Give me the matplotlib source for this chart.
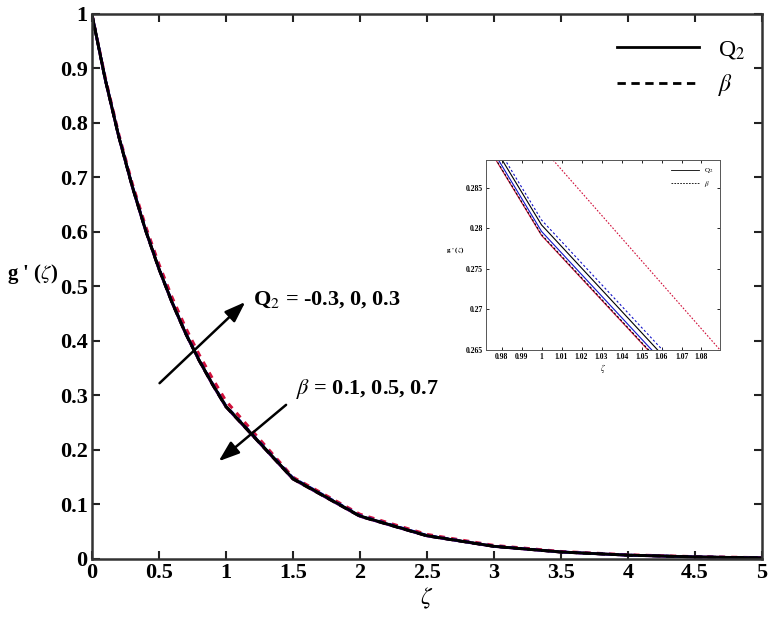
import matplotlib
matplotlib.use("Agg")
import matplotlib.pyplot as plt

plt.rcParams['font.family'] = ['Liberation Serif', 'DejaVu Serif']
plt.rcParams['mathtext.fontset'] = 'stix'

# grid of similarity variable
zeta = [0, 0.1, 0.2, 0.3, 0.4, 0.5, 0.6, 0.7, 0.8, 0.9, 1.0,
        1.5, 2.0, 2.5, 3.0, 3.5, 4.0, 4.5, 5.0]

# Q2 = -0.3, 0, 0.3 (solid)
q2_red = [1.0, 0.879, 0.775, 0.684, 0.603, 0.532, 0.469, 0.413, 0.364, 0.3198, 0.2791,
          0.1466, 0.0782, 0.0423, 0.0230, 0.0126, 0.0069, 0.0037, 0.0019]
q2_blue = [1.0, 0.8795, 0.7755, 0.6845, 0.6035, 0.5325, 0.4695, 0.4135, 0.3645, 0.3204, 0.2796,
           0.1472, 0.0786, 0.0425, 0.0231, 0.0127, 0.0069, 0.0037, 0.0019]
q2_black = [1.0, 0.880, 0.776, 0.685, 0.604, 0.533, 0.470, 0.414, 0.365, 0.321, 0.2804,
            0.1478, 0.0790, 0.0428, 0.0233, 0.0128, 0.0070, 0.0038, 0.0020]

# beta = 0.1, 0.5, 0.7 (dashed)
b_black = [1.0, 0.879, 0.775, 0.684, 0.603, 0.532, 0.469, 0.413, 0.364, 0.3198, 0.2792,
           0.1467, 0.0782, 0.0423, 0.0230, 0.0126, 0.0069, 0.0037, 0.0019]
b_blue = [1.0, 0.8805, 0.7767, 0.6858, 0.6048, 0.5338, 0.4708, 0.4148, 0.3658, 0.3216, 0.2810,
          0.1488, 0.0797, 0.0433, 0.0236, 0.0130, 0.0071, 0.0039, 0.0020]
b_red = [1.0, 0.883, 0.780, 0.690, 0.611, 0.541, 0.479, 0.424, 0.375, 0.331, 0.2900,
         0.1500, 0.0820, 0.0450, 0.0248, 0.0137, 0.0076, 0.0042, 0.0023]

RED = '#d0103a'
BLUE = '#1010c8'

fig = plt.figure(figsize=(7.72, 6.19), dpi=100)
ax = fig.add_axes([0.119, 0.097, 0.868, 0.8805])

# main plot
ax.plot(zeta, b_red, color=RED, lw=2.2, ls=(0, (2, 2)))
ax.plot(zeta, b_blue, color=BLUE, lw=2.0, ls=(0, (2, 2)))
ax.plot(zeta, q2_red, color=RED, lw=2.0)
ax.plot(zeta, q2_blue, color=BLUE, lw=2.0)
ax.plot(zeta, b_black, color='black', lw=2.0, ls=(0, (3, 2)))
ax.plot(zeta, q2_black, color='black', lw=2.0)

ax.set_xlim(0, 5)
ax.set_ylim(0, 1)
ax.set_xticks([0, 0.5, 1, 1.5, 2, 2.5, 3, 3.5, 4, 4.5, 5])
ax.set_xticklabels(['0', '0.5', '1', '1.5', '2', '2.5', '3', '3.5', '4', '4.5', '5'])
ax.set_yticks([0, 0.1, 0.2, 0.3, 0.4, 0.5, 0.6, 0.7, 0.8, 0.9, 1])
ax.set_yticklabels(['0', '0.1', '0.2', '0.3', '0.4', '0.5', '0.6', '0.7', '0.8', '0.9', '1'])
ax.tick_params(direction='in', top=True, right=True, length=6, width=1.5,
               labelsize=16, pad=3, colors='#222222', labelcolor='black')
for lab in ax.get_xticklabels() + ax.get_yticklabels():
    lab.set_fontweight('bold')
for sp in ax.spines.values():
    sp.set_linewidth(1.8)
    sp.set_color('#333333')

ax.set_xlabel(r'$\zeta$', fontsize=17, labelpad=2)
ax.set_ylabel(r"g ' ($\zeta$)", fontsize=15, fontweight='bold', rotation=0, labelpad=0)
ax.yaxis.set_label_coords(-0.088, 0.5)

# legend
ax.plot([], [], color='black', lw=2, label=r'Q$_2$')
ax.plot([], [], color='black', lw=2, ls=(0, (3, 2)), label=r'$\beta$')
handles, labels = ax.get_legend_handles_labels()
ax.legend(handles[-2:], labels[-2:], loc='upper right', frameon=False, fontsize=17,
          handlelength=3.5, bbox_to_anchor=(1.0, 0.985), borderaxespad=0.3)

# annotations
arrow = dict(arrowstyle='-|>,head_width=0.25,head_length=0.7', color='black', lw=1.8,
             mutation_scale=18)
ax.annotate('', xy=(1.16, 0.475), xytext=(0.49, 0.319), arrowprops=arrow)
ax.text(1.2, 0.475, r'Q$_2$ = -0.3, 0, 0.3', fontsize=16, fontweight='bold', va='center')
ax.annotate('', xy=(0.93, 0.176), xytext=(1.465, 0.286), arrowprops=arrow)
ax.text(1.52, 0.29, r'$\beta$ = 0.1, 0.5, 0.7', fontsize=16, fontweight='bold', va='bottom')

# inset
ins = fig.add_axes([0.6295, 0.4346, 0.303, 0.307])
ins.plot(zeta, q2_red, color=RED, lw=0.8)
ins.plot(zeta, q2_blue, color=BLUE, lw=0.8)
ins.plot(zeta, q2_black, color='black', lw=0.8)
ins.plot(zeta, b_black, color='black', lw=0.8, ls=(0, (2, 2)))
ins.plot(zeta, b_blue, color=BLUE, lw=0.8, ls=(0, (2, 2)))
ins.plot(zeta, b_red, color=RED, lw=0.8, ls=(0, (1.5, 1.5)))
ins.set_xlim(0.9722, 1.0892)
ins.set_ylim(0.265, 0.2884)
ins.set_xticks([0.98, 0.99, 1.0, 1.01, 1.02, 1.03, 1.04, 1.05, 1.06, 1.07, 1.08])
ins.set_xticklabels(['0.98', '0.99', '1', '1.01', '1.02', '1.03', '1.04', '1.05', '1.06', '1.07', '1.08'])
ins.set_yticks([0.265, 0.27, 0.275, 0.28, 0.285])
ins.set_yticklabels(['0.265', '0.27', '0.275', '0.28', '0.285'])
ins.tick_params(direction='in', top=True, right=True, length=2.5, width=0.6,
                labelsize=5.5, pad=2)
for lab in ins.get_xticklabels() + ins.get_yticklabels():
    lab.set_fontweight('bold')
for sp in ins.spines.values():
    sp.set_linewidth(0.7)
    sp.set_color('#555555')
ins.set_xlabel(r'$\zeta$', fontsize=6, labelpad=1)
ins.set_ylabel(r"g ' ($\zeta$)", fontsize=5, fontweight='bold', rotation=0, labelpad=0)
ins.yaxis.set_label_coords(-0.13, 0.5)
ins.plot([], [], color='black', lw=0.6, label=r'Q$_2$')
ins.plot([], [], color='black', lw=0.6, ls=(0, (2, 1.5)), label=r'$\beta$')
h2, l2 = ins.get_legend_handles_labels()
ins.legend(h2[-2:], l2[-2:], loc='upper right', frameon=False, fontsize=5,
           handlelength=4)

fig.savefig('out.png', dpi=100)
